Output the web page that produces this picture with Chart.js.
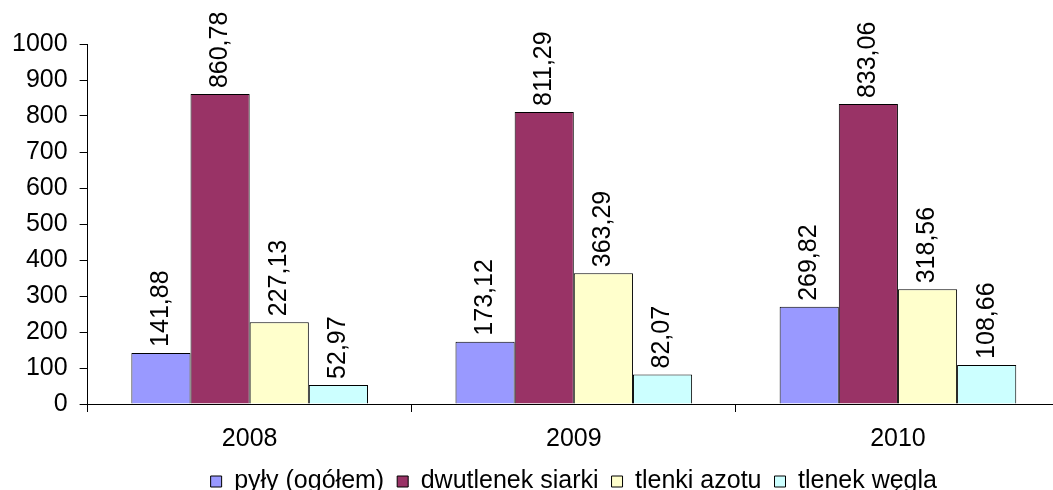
<!DOCTYPE html>
<html>
<head>
<meta charset="utf-8">
<script src="https://cdn.jsdelivr.net/npm/chart.js@4"></script>
<style>
  html, body { margin: 0; padding: 0; background: #fff; overflow: hidden; }
  #ramka { width: 1062px; height: 504px; position: relative; }
</style>
</head>
<body>
<div id="ramka"><canvas id="wykres"></canvas></div>
<script>
// Dane
var lata = ["2008", "2009", "2010"];
var pyly = [141.88, 173.12, 269.82];
var dwutlenek_siarki = [860.78, 811.29, 833.06];
var tlenki_azotu = [227.13, 363.29, 318.56];
var tlenek_wegla = [52.97, 82.07, 108.66];
var ticki_y = [0, 100, 200, 300, 400, 500, 600, 700, 800, 900, 1000];

var czcionka = "'Liberation Sans', Arial, sans-serif";

// Etykiety wartości obrócone nad słupkami
var etykiety_wartosci = {
    id: 'etykiety_wartosci',
    afterDatasetsDraw: function(wykres) {
        var ctx = wykres.ctx;
        ctx.save();
        ctx.font = "25px " + czcionka;
        ctx.fillStyle = "#000";
        ctx.textAlign = "left";
        ctx.textBaseline = "middle";
        wykres.data.datasets.forEach(function(zbior, i) {
            var meta = wykres.getDatasetMeta(i);
            meta.data.forEach(function(slupek, j) {
                var tekst = zbior.data[j].toFixed(2).replace('.', ',');
                ctx.save();
                ctx.translate(slupek.x, slupek.y - 6);
                ctx.rotate(-Math.PI / 2);
                ctx.fillText(tekst, 0, 0);
                ctx.restore();
            });
        });
        ctx.restore();
    }
};

function zbior(nazwa, dane, kolor) {
    return {
        label: nazwa,
        data: dane,
        backgroundColor: kolor,
        borderColor: "#000",
        borderWidth: 1,
        categoryPercentage: 0.73,
        barPercentage: 1.0
    };
}

var contexto = document.getElementById('wykres').getContext('2d');
var wykres = new Chart(contexto, {
    type: 'bar',
    data: {
        labels: lata,
        datasets: [
            zbior("pyły (ogółem)", pyly, "#9999FF"),
            zbior("dwutlenek siarki", dwutlenek_siarki, "#993366"),
            zbior("tlenki azotu", tlenki_azotu, "#FFFFCC"),
            zbior("tlenek węgla", tlenek_wegla, "#CCFFFF")
        ]
    },
    options: {
        responsive: true,
        maintainAspectRatio: false,
        animation: false,
        layout: { padding: { top: 44, left: 0, right: 2, bottom: 0 } },
        scales: {
            x: {
                grid: { drawOnChartArea: false, drawTicks: true, tickLength: 8, color: "#000", offset: true },
                border: { color: "#000", width: 1 },
                ticks: { color: "#000", font: { size: 25, family: czcionka }, padding: 12, maxRotation: 0 },
                afterFit: function(os) { os.height -= 10; }
            },
            y: {
                min: 0,
                max: 1000,
                afterBuildTicks: function(os) {
                    os.ticks = ticki_y.map(function(v) { return { value: v }; });
                },
                grid: { drawOnChartArea: false, drawTicks: true, tickLength: 8, color: "#000" },
                border: { color: "#000", width: 1 },
                ticks: {
                    color: "#000",
                    font: { size: 25, family: czcionka },
                    padding: 12,
                    callback: function(v) { return String(v); }
                }
            }
        },
        plugins: {
            legend: {
                position: 'bottom',
                fullSize: false,
                labels: {
                    color: "#000",
                    font: { size: 25, family: czcionka },
                    boxWidth: 11,
                    boxHeight: 11,
                    padding: 13
                }
            },
            tooltip: { enabled: false }
        }
    },
    plugins: [etykiety_wartosci]
});
</script>
</body>
</html>
